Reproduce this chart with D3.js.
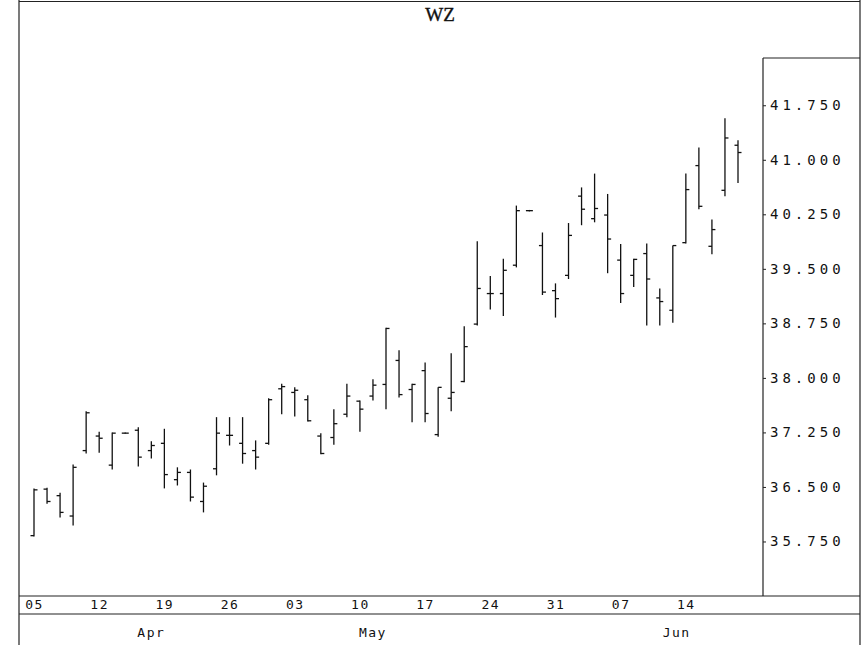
<!DOCTYPE html>
<html>
<head>
<meta charset="utf-8">
<script src="https://cdn.jsdelivr.net/npm/d3@7"></script>
<style>
  body { margin: 0; background: #fff; }
  text { fill: #111; }
</style>
</head>
<body>
<div id="chart"></div>
<script>
// trading days, Apr 5 - Jun 18
const days = [
  "04-05","04-06","04-07","04-08","04-09",
  "04-12","04-13","04-14","04-15","04-16",
  "04-19","04-20","04-21","04-22","04-23",
  "04-26","04-27","04-28","04-29","04-30",
  "05-03","05-04","05-05","05-06","05-07",
  "05-10","05-11","05-12","05-13","05-14",
  "05-17","05-18","05-19","05-20","05-21",
  "05-24","05-25","05-26","05-27","05-28",
  "05-31","06-01","06-02","06-03","06-04",
  "06-07","06-08","06-09","06-10","06-11",
  "06-14","06-15","06-16","06-17","06-18"
];

const open = [
  35.83,36.47,36.38,36.10,37.00, 37.20,36.80,37.24,37.28,37.00,
  37.10,36.60,36.70,36.30,36.75, 37.21,37.10,37.00,37.10,37.85,
  37.80,37.70,37.20,37.18,37.50, 37.68,37.75,37.91,38.24,37.84,
  38.10,37.22,37.72,37.95,38.74, 39.16,39.16,39.55,40.30,39.82,
  39.20,39.41,40.50,40.19,40.24, 39.62,39.41,39.71,39.10,38.93,
  39.86,40.92,39.81,40.58,41.20
];
const high = [
  36.48,36.49,36.42,36.81,37.54, 37.26,37.25,37.25,37.32,37.13,
  37.30,36.77,36.74,36.56,37.46, 37.46,37.46,37.14,37.72,37.92,
  37.87,37.76,37.24,37.57,37.92, 37.69,37.98,38.69,38.38,37.92,
  38.21,37.87,38.34,38.71,39.88, 39.40,39.64,40.37,40.31,40.00,
  39.30,40.13,40.62,40.81,40.53, 39.84,39.64,39.85,39.23,39.82,
  40.81,41.17,40.18,41.57,41.27
];
const low = [
  35.82,36.27,36.08,35.97,36.96, 36.97,36.74,37.23,36.78,36.89,
  36.48,36.52,36.30,36.15,36.66, 37.07,36.82,36.74,37.08,37.50,
  37.47,37.40,36.95,37.08,37.46, 37.26,37.69,37.57,37.73,37.39,
  37.39,37.19,37.54,37.94,38.72, 38.94,38.85,39.52,40.29,39.14,
  38.83,39.36,40.10,40.14,39.44, 39.03,39.25,38.72,38.72,38.76,
  39.85,40.32,39.70,40.50,40.68
];
const close = [
  36.46,36.30,36.15,36.77,37.52, 37.17,37.24,37.24,36.91,37.07,
  36.67,36.70,36.36,36.51,37.24, 37.21,36.96,36.91,37.70,37.88,
  37.83,37.41,36.96,37.37,37.75, 37.57,37.90,38.68,37.77,37.91,
  37.51,37.87,37.80,38.43,39.23, 39.16,39.48,40.30,40.30,39.18,
  39.09,39.96,40.32,40.33,39.91, 39.16,39.63,39.36,39.05,39.82,
  40.59,40.36,40.04,41.30,41.10
];

const weekTicks = ["04-05","04-12","04-19","04-26","05-03","05-10","05-17","05-24","05-31","06-07","06-14"];
const months = ["Apr","May","Jun"];
const monthAt = [9, 26, 49.3];   // label positions, in trading-day units
const yTicks = [35.75, 36.5, 37.25, 38.0, 38.75, 39.5, 40.25, 41.0, 41.75];

const W = 863, H = 645;
const svg = d3.select("#chart").append("svg")
  .attr("width", W).attr("height", H);

const left = 19, right = 860, plotRight = 763, boxTop = 58, axisY = 596, axis2Y = 614;
const mono = "'DejaVu Sans Mono', monospace";

const x = d3.scalePoint().domain(days).range([34, 738]);
const xi = d3.scaleLinear().domain([0, days.length - 1]).range([34, 738]);
const y = d3.scaleLinear().domain([35, 42.4]).range([axisY, boxTop]);

const bars = days.map((d, i) => ({d, o: open[i], h: high[i], l: low[i], c: close[i]}));

// frame
const frame = svg.append("g").attr("stroke", "#222").attr("stroke-width", 1.2).attr("fill", "none");
frame.append("line").attr("x1", left).attr("x2", left).attr("y1", 0).attr("y2", H);
frame.append("line").attr("x1", right).attr("x2", right).attr("y1", 0).attr("y2", H);
frame.append("line").attr("x1", left).attr("x2", right).attr("y1", 1.5).attr("y2", 1.5);
frame.append("line").attr("x1", left).attr("x2", right).attr("y1", axisY).attr("y2", axisY);
frame.append("line").attr("x1", left).attr("x2", right).attr("y1", axis2Y).attr("y2", axis2Y);
frame.append("line").attr("x1", plotRight).attr("x2", plotRight).attr("y1", boxTop).attr("y2", axisY);
frame.append("line").attr("x1", plotRight).attr("x2", right).attr("y1", boxTop).attr("y2", boxTop);

// title
svg.append("text")
  .attr("x", 440).attr("y", 21)
  .attr("text-anchor", "middle")
  .style("font-family", "'Liberation Serif', serif")
  .style("font-size", "19px")
  .style("stroke", "#111").style("stroke-width", 0.4)
  .text("WZ");

// y axis on the right
const yAxis = d3.axisRight(y).tickValues(yTicks).tickSize(3).tickFormat(d3.format(".3f"));
const ya = svg.append("g").attr("transform", `translate(${plotRight},0)`).call(yAxis);
ya.select(".domain").remove();
ya.selectAll(".tick line").attr("stroke", "#222");
ya.selectAll(".tick text")
  .attr("x", 7)
  .style("font-family", mono)
  .style("font-size", "14px")
  .style("letter-spacing", "4px")
  .attr("fill", "#111");

// x axis labels (week starts)
const xa = d3.axisBottom(x).tickValues(weekTicks).tickSize(0).tickFormat(d => d.slice(3));
const xg = svg.append("g").attr("transform", `translate(0,${axisY})`).call(xa);
xg.select(".domain").remove();
xg.selectAll(".tick text")
  .attr("y", 4)
  .attr("dy", "0.71em")
  .style("font-family", mono)
  .style("font-size", "13px")
  .style("letter-spacing", "1.5px")
  .attr("fill", "#111");

svg.append("g").selectAll("text")
  .data(months)
  .join("text")
    .attr("x", (d, i) => xi(monthAt[i]))
    .attr("y", 637)
    .attr("text-anchor", "middle")
    .style("font-family", mono)
    .style("font-size", "13px")
    .style("letter-spacing", "1.5px")
    .text(d => d);

// OHLC bars
const g = svg.append("g").attr("stroke", "#111").attr("stroke-width", 1.3).attr("fill", "none");
const bar = g.selectAll("g").data(bars).join("g");
bar.append("line")
  .attr("x1", d => x(d.d)).attr("x2", d => x(d.d))
  .attr("y1", d => y(d.h)).attr("y2", d => y(d.l));
bar.append("line")
  .attr("x1", d => x(d.d) - 3.5).attr("x2", d => x(d.d))
  .attr("y1", d => y(d.o)).attr("y2", d => y(d.o));
bar.append("line")
  .attr("x1", d => x(d.d)).attr("x2", d => x(d.d) + 3.5)
  .attr("y1", d => y(d.c)).attr("y2", d => y(d.c));
</script>
</body>
</html>
